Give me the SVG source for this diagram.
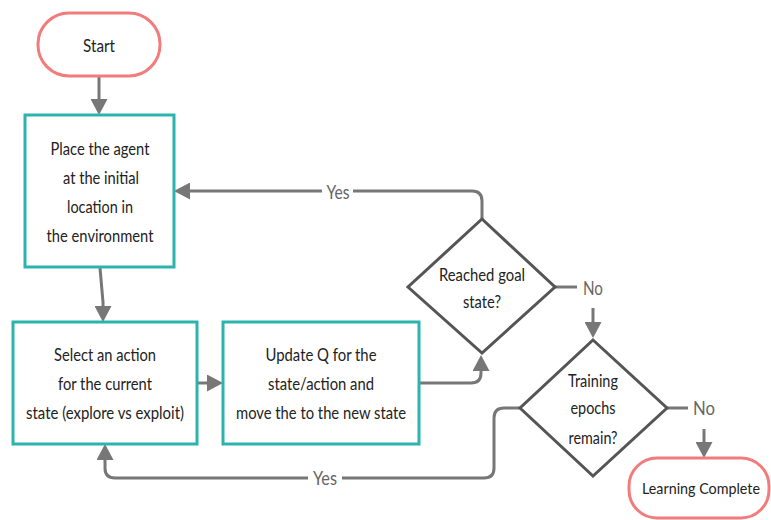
<svg xmlns="http://www.w3.org/2000/svg" width="771" height="520" viewBox="0 0 771 520">
  <style>
    .terminal { fill: #ffffff; stroke: #f27c7c; stroke-width: 3; }
    .process { fill: #ffffff; stroke: #2bb3ad; stroke-width: 3; }
    .decision { fill: #ffffff; stroke: #555555; stroke-width: 3; stroke-linejoin: miter; }
    .txt { font-family: Lato, "Open Sans", "Liberation Sans", sans-serif; font-size: 18px; fill: #222222; text-anchor: middle; }
    .txt.small { font-size: 15px; }
    .lbl { font-family: Lato, "Open Sans", "Liberation Sans", sans-serif; font-size: 20px; fill: #666666; text-anchor: middle; }
    .conn { fill: none; stroke: #777777; stroke-width: 3; }
    .arrow { marker-end: url(#head); }
    .gap { fill: #ffffff; }
  </style>
  <defs>
    <marker id="head" markerUnits="userSpaceOnUse" markerWidth="17" markerHeight="17" refX="12" refY="8.5" orient="auto">
      <path d="M0,0 L16,8.5 L0,17 z" fill="#777777"/>
    </marker>
  </defs>

  <rect width="771" height="520" fill="#ffffff"/>

  <!-- connectors -->
  <g id="connectors">
    <path class="conn arrow" d="M99,77 V111"/>
    <path class="conn arrow" d="M100,268 L103,302 V318"/>
    <path class="conn arrow" d="M197,383 H219"/>
    <path class="conn arrow" d="M419,383 H471 Q481,383 481,373 V359"/>
    <path class="conn arrow" d="M482,219 V201 Q482,191 472,191 H178"/>
    <path class="conn" d="M555,287 H577"/>
    <path class="conn arrow" d="M593,308 V334"/>
    <path class="conn" d="M667,408 H688"/>
    <path class="conn arrow" d="M704,429 V454"/>
    <path class="conn arrow" d="M520,408 H504 Q494,408 494,418 V468 Q494,478 484,478 H115 Q105,478 105,468 V448"/>
    <!-- edge labels -->
    <rect class="gap" x="322" y="181" width="31" height="22"/>
    <text class="lbl" x="338" y="199" textLength="23" lengthAdjust="spacingAndGlyphs">Yes</text>
    <text class="lbl" x="593" y="295" textLength="20" lengthAdjust="spacingAndGlyphs">No</text>
    <text class="lbl" x="704" y="415" textLength="22" lengthAdjust="spacingAndGlyphs">No</text>
    <rect class="gap" x="308" y="468" width="34" height="22"/>
    <text class="lbl" x="325" y="485" textLength="24" lengthAdjust="spacingAndGlyphs">Yes</text>
  </g>

  <g id="start">
    <rect class="terminal" x="38" y="13" width="122" height="63" rx="31"/>
    <text class="txt" x="99" y="52" textLength="32" lengthAdjust="spacingAndGlyphs">Start</text>
  </g>

  <g id="place-agent">
    <rect class="process" x="25" y="115" width="149" height="152"/>
    <text class="txt" x="100" y="155" textLength="99" lengthAdjust="spacingAndGlyphs">Place the agent</text>
    <text class="txt" x="101" y="184" textLength="76" lengthAdjust="spacingAndGlyphs">at the initial</text>
    <text class="txt" x="100" y="213" textLength="66" lengthAdjust="spacingAndGlyphs">location in</text>
    <text class="txt" x="100" y="242" textLength="107" lengthAdjust="spacingAndGlyphs">the environment</text>
  </g>

  <g id="select-action">
    <rect class="process" x="13" y="322" width="184" height="122"/>
    <text class="txt" x="105" y="361" textLength="102" lengthAdjust="spacingAndGlyphs">Select an action</text>
    <text class="txt" x="105" y="390" textLength="94" lengthAdjust="spacingAndGlyphs">for the current</text>
    <text class="txt" x="105" y="419" textLength="158" lengthAdjust="spacingAndGlyphs">state (explore vs exploit)</text>
  </g>

  <g id="update-q">
    <rect class="process" x="223" y="322" width="196" height="122"/>
    <text class="txt" x="321" y="361" textLength="111" lengthAdjust="spacingAndGlyphs">Update Q for the</text>
    <text class="txt" x="321" y="390" textLength="106" lengthAdjust="spacingAndGlyphs">state/action and</text>
    <text class="txt" x="321" y="419" textLength="170" lengthAdjust="spacingAndGlyphs">move the to the new state</text>
  </g>

  <g id="goal-check">
    <polygon class="decision" points="482,219 555,287 482,353 408,287"/>
    <text class="txt" x="482" y="281" textLength="86" lengthAdjust="spacingAndGlyphs">Reached goal</text>
    <text class="txt" x="482" y="308" textLength="38" lengthAdjust="spacingAndGlyphs">state?</text>
  </g>

  <g id="epochs-check">
    <polygon class="decision" points="593,340 667,408 593,476 520,408"/>
    <text class="txt" x="593" y="387" textLength="50" lengthAdjust="spacingAndGlyphs">Training</text>
    <text class="txt" x="593" y="414" textLength="45" lengthAdjust="spacingAndGlyphs">epochs</text>
    <text class="txt" x="593" y="444" textLength="49" lengthAdjust="spacingAndGlyphs">remain?</text>
  </g>

  <g id="learning-complete">
    <rect class="terminal" x="629" y="458" width="140" height="60" rx="28"/>
    <text class="txt small" x="701" y="494" textLength="118" lengthAdjust="spacingAndGlyphs">Learning Complete</text>
  </g>
</svg>
